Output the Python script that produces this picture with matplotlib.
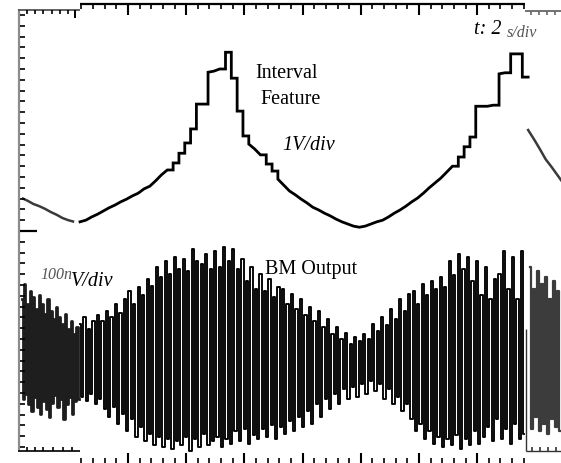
import numpy as np
import matplotlib
matplotlib.use("Agg")
import matplotlib.pyplot as plt

# ---------------- data ----------------
# Interval feature (V), sampled every 0.2 s (2 s/div)
top_dt = 0.2
top_main_t0 = 0.0
top_main_v = [0.17, 0.20, 0.26, 0.31, 0.37, 0.43, 0.48, 0.54, 0.59, 0.65,
              0.70, 0.78, 0.83, 0.93, 1.04, 1.13, 1.26, 1.44, 1.63, 1.89,
              2.35, 2.35, 2.94, 2.96, 3.00, 3.31, 2.83, 2.22, 1.76, 1.61,
              1.52, 1.41, 1.24, 1.11, 0.96, 0.85, 0.74, 0.67, 0.59, 0.52,
              0.44, 0.39, 0.33, 0.28, 0.22, 0.17, 0.13, 0.09, 0.07, 0.09,
              0.13, 0.17, 0.20, 0.26, 0.33, 0.39, 0.46, 0.54, 0.61, 0.70,
              0.80, 0.89, 0.98, 1.09, 1.20, 1.37, 1.56, 1.74, 2.31, 2.31,
              2.31, 2.33, 2.91, 2.93, 3.28, 3.28, 2.85, 2.85]
top_left_t0 = -2.0
top_left_v = [0.61, 0.56, 0.50, 0.46, 0.41, 0.35, 0.30, 0.24, 0.20, 0.17]
top_right_t0 = 15.4
top_right_v = [1.87, 1.70, 1.52, 1.33, 1.19, 1.04, 0.89]

# BM output (nV): per-cycle peak tops and bottoms
bm_main_t0, bm_main_period = 0.0, 0.155
bm_main_top = [46, 59, 37, 52, 63, 52, 70, 59, 83, 67, 93, 107, 83, 115, 100,
               130, 117, 152, 133, 163, 139, 170, 148, 167, 144, 185, 163, 157, 176, 148,
               181, 152, 189, 163, 185, 148, 167, 126, 152, 111, 139, 107, 130, 96, 115,
               111, 83, 102, 74, 93, 63, 78, 52, 70, 41, 56, 28, 41, 19, 30,
               9, 22, 15, 28, 19, 46, 33, 59, 44, 74, 56, 93, 70, 102, 107,
               83, 120, 100, 126, 111, 133, 115, 163, 137, 176, 148, 170, 126, 163, 100,
               152, 93, 130, 139, 181, 111, 170, 93, 181]
bm_main_bot = [-89, -96, -83, -102, -93, -111, -126, -107, -139, -120, -152, -130, -163, -144, -170,
               -157, -178, -163, -181, -167, -185, -170, -178, -163, -189, -167, -181, -157, -178, -170,
               -163, -181, -167, -176, -152, -170, -148, -176, -159, -167, -148, -163, -141, -167, -144,
               -157, -133, -152, -126, -144, -115, -139, -102, -126, -93, -111, -83, -102, -74, -93,
               -70, -89, -65, -83, -59, -78, -65, -93, -74, -102, -89, -115, -102, -130, -152,
               -139, -167, -152, -176, -163, -181, -167, -178, -159, -185, -167, -178, -152, -176, -163,
               -144, -170, -130, -167, -148, -176, -139, -167, -157]
bm_left_t0, bm_left_period = -2.0, 0.1
bm_left_top = [93, 120, 83, 107, 96, 74, 100, 83, 65, 93, 70, 56, 78, 59, 46, 65, 37, 52, 28, 41]
bm_left_bot = [-93, -83, -102, -115, -89, -107, -120, -96, -111, -126, -100, -85, -107, -93, -130,
               -102, -89, -120, -96, -93]
bm_right_t0, bm_right_period = 15.45, 0.14
bm_right_top = [152, 111, 144, 120, 133, 93, 126, 107]
bm_right_bot = [-148, -126, -152, -139, -157, -130, -144, -152]

# ---------------- figure ----------------
W, H = 561, 464
fig = plt.figure(figsize=(W / 100, H / 100), dpi=100)
fig.patch.set_facecolor("white")

PX_PER_S = 29.1
T0_PX = 80.0
xlim = (-T0_PX / PX_PER_S, (W - T0_PX) / PX_PER_S)

ax = fig.add_axes([0, 0, 1, 1])   # volts
ax.set_xlim(*xlim)
ax.set_ylim(-H / 2 / 54.0, H / 2 / 54.0)
ax.axis("off")

ax2 = fig.add_axes([0, 0, 1, 1], sharex=ax)  # nV
ax2.set_ylim(-(H - 350) * 100 / 54.0, 350 * 100 / 54.0)
ax2.axis("off")
ax2.patch.set_alpha(0)


def tgrid(t0, dt, n):
    return t0 + dt * np.arange(n)


def stair_path(t, v, jump=0.12):
    """Sloped line for small changes, flat-then-vertical for big jumps."""
    xs, ys = [t[0]], [v[0]]
    for k in range(1, len(v)):
        if abs(v[k] - v[k - 1]) > jump:
            xs.append(t[k]); ys.append(v[k - 1])
        xs.append(t[k]); ys.append(v[k])
    return xs, ys


# Interval feature traces
ax.plot(tgrid(top_left_t0, top_dt, len(top_left_v)), top_left_v,
        color="#3a3a3a", lw=1.8, solid_capstyle="butt")
xs, ys = stair_path(tgrid(top_main_t0, top_dt, len(top_main_v)), top_main_v)
ax.plot(xs, ys, color="black", lw=2.0, solid_joinstyle="miter")
ax.plot(tgrid(top_right_t0, top_dt, len(top_right_v)), top_right_v,
        color="#3a3a3a", lw=1.8)


def square(top, bot, t0, period):
    vals = np.column_stack([top, bot]).ravel()
    t = t0 + np.arange(len(vals)) * period / 2
    return t, vals


t, v = square(bm_left_top, bm_left_bot, bm_left_t0, bm_left_period)
ax2.plot(t, v, color="#1e1e1e", lw=2.0, drawstyle="steps-mid")
t, v = square(bm_main_top, bm_main_bot, bm_main_t0, bm_main_period)
ax2.plot(t, v, color="black", lw=1.35, drawstyle="steps-mid")
t, v = square(bm_right_top, bm_right_bot, bm_right_t0, bm_right_period)
ax2.plot(t, v, color="#3c3c3c", lw=1.6, drawstyle="steps-mid")

# ---------------- frame overlay (pixel coordinates) ----------------
fr = fig.add_axes([0, 0, 1, 1])
fr.set_xlim(0, W)
fr.set_ylim(H, 0)
fr.axis("off")
fr.patch.set_alpha(0)


def seg(x0, y0, x1, y1, c="black", lw=1.2):
    fr.plot([x0, x1], [y0, y1], color=c, lw=lw, solid_capstyle="butt")


# left vertical axis
seg(19.5, 10, 19.5, 452, c="#8c8c8c", lw=1.6)
for k in range(-20, 21):
    y = 232 - 10.8 * k
    if 14 < y < 450:
        seg(20, y, 25, y, lw=1.2)
seg(20, 232, 37, 232, lw=1.6)

# left fragment top / bottom
seg(18, 11, 80, 11, c="#555555", lw=1.3)
for x in [27, 35, 43, 52, 60, 68]:
    seg(x, 11, x, 15, lw=1.2)
seg(75, 11, 75, 19, lw=1.4)
seg(18, 452, 80, 452, c="#222222", lw=1.4)
for x in [27, 35, 43, 53, 63, 72]:
    seg(x, 452, x, 448, lw=1.2)

# main top & bottom ticks
seg(80, 5, 525, 5, lw=1.6)
for j in range(-4, 35):
    x = 128 + 11.64 * j
    major = (j % 5 == 0)
    seg(x, 5, x, 16 if major else 10, lw=1.5 if major else 1.2)
    seg(x, 464, x, 454 if major else 459, lw=1.5 if major else 1.2)

# right fragment
seg(525, 12, 561, 12, c="#666666", lw=1.3)
for x in [531, 539, 547, 555]:
    seg(x, 12, x, 16, c="#666666", lw=1.2)
seg(526, 330, 526, 452, c="#333333", lw=1.0)
seg(526, 452, 561, 452, c="#333333", lw=1.0)
for x in [532, 540, 548, 556]:
    seg(x, 452, x, 448, c="#333333", lw=1.2)

# ---------------- labels ----------------
serif = "Liberation Serif"
fr.text(287, 74, "Interval", family=serif, fontsize=14.5, ha="center", va="center")
fr.text(291, 99, "Feature", family=serif, fontsize=14.5, ha="center", va="center")
fr.text(309, 146, "1V/div", family=serif, style="italic", fontsize=14.5,
        ha="center", va="center")
fr.text(311, 270, "BM Output", family=serif, fontsize=14.5, ha="center", va="center")
fr.text(474, 29, "t: 2", family=serif, style="italic", fontsize=14.5,
        ha="left", va="center")
fr.text(507, 33, "s/div", family=serif, style="italic", fontsize=11.5,
        color="#555555", ha="left", va="center")
fr.text(40, 275, "100n", family=serif, style="italic", fontsize=11.5,
        color="#555555", ha="left", va="center")
fr.text(71, 282, "V/div", family=serif, style="italic", fontsize=14.5,
        ha="left", va="center")

fig.savefig("out.png", dpi=100, facecolor="white")
